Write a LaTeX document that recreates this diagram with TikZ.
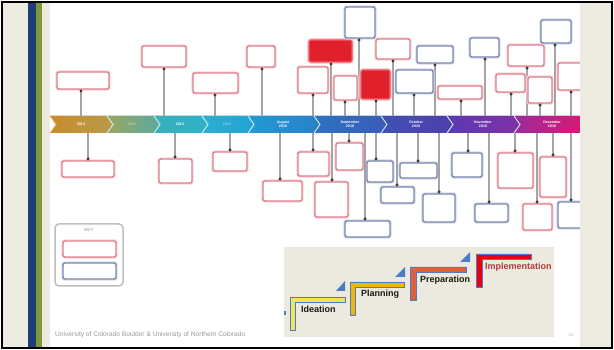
\documentclass[tikz,border=0pt]{standalone}
\usepackage{fontspec}
\setmainfont{Liberation Sans}
\usetikzlibrary{arrows.meta}
\definecolor{beige}{HTML}{EDEBE0}
\definecolor{barblue}{HTML}{1F3E78}
\definecolor{bargreen}{HTML}{7C9A3C}
\definecolor{boxpink}{HTML}{E07E8A}
\definecolor{boxblue}{HTML}{7A88B0}
\definecolor{boxred}{HTML}{E0202A}
\definecolor{boxredline}{HTML}{F06070}
\definecolor{conngray}{HTML}{A4A4A8}
\definecolor{dotgray}{HTML}{3A3A3A}
\definecolor{insetbg}{HTML}{ECE9DE}
\definecolor{stepblue}{HTML}{4A7CC8}
\definecolor{implred}{HTML}{B03A3A}
\definecolor{cA}{HTML}{C88C2C}\definecolor{cB}{HTML}{B89A4C}
\definecolor{cC}{HTML}{98A860}\definecolor{cD}{HTML}{5CA8A0}
\definecolor{cE}{HTML}{38B0BC}\definecolor{cF}{HTML}{30B0C8}
\definecolor{cG}{HTML}{2CB0D0}\definecolor{cH}{HTML}{22A2D4}
\definecolor{cI}{HTML}{229AD2}\definecolor{cJ}{HTML}{2A80C8}
\definecolor{cK}{HTML}{2E72C2}\definecolor{cL}{HTML}{3A5CB6}
\definecolor{cM}{HTML}{3E52B2}\definecolor{cN}{HTML}{503EAE}
\definecolor{cO}{HTML}{5A3AB0}\definecolor{cP}{HTML}{8030A6}
\definecolor{cQ}{HTML}{9C2A9A}\definecolor{cR}{HTML}{E0186E}
\definecolor{chevorange}{HTML}{F0C070}
\definecolor{chevwhite}{HTML}{D8F0F8}
\definecolor{stepyellow}{HTML}{F7E454}
\definecolor{steporange}{HTML}{F5B400}
\definecolor{stepcoral}{HTML}{E0603C}
\definecolor{stepred}{HTML}{E8000C}
\newcommand\tbx[7]{%
  \node[#6, minimum width={(#4-#2)*1pt}, minimum height={(#5-#3)*1pt}] (#1) at ({(#2+#4)/2},{(#3+#5)/2}) {};
  \coordinate (#1a) at (#7,116);
  \draw[conn] (#1a) -- (#1a |- #1.south);}
\newcommand\bbx[7]{%
  \node[#6, minimum width={(#4-#2)*1pt}, minimum height={(#5-#3)*1pt}] (#1) at ({(#2+#4)/2},{(#3+#5)/2}) {};
  \coordinate (#1a) at (#7,133);
  \draw[conn] (#1a) -- (#1a |- #1.north);}
\newcommand\seg[4]{%
  \fill[left color=#3,right color=#4] (#1,116) -- (#2,116) -- (#2+6,124.5) -- (#2,133) -- (#1,133) -- (#1+6,124.5) -- cycle;}
\newcommand\chev[2]{\draw[#2, line width=0.9pt] (#1,116) -- (#1+6,124.5) -- (#1,133);}
\begin{document}
\begin{tikzpicture}[x=1pt,y=-1pt,
  pinkbox/.style={draw=boxpink, line width=1.4pt, rounded corners=2pt, fill=white, inner sep=0pt,
    preaction={draw=boxpink!30, line width=3.4pt}},
  bluebox/.style={draw=boxblue, line width=1.4pt, rounded corners=2pt, fill=white, inner sep=0pt,
    preaction={draw=boxblue!30, line width=3.4pt}},
  redbox/.style={draw=boxredline, line width=1.2pt, rounded corners=2pt, fill=boxred, inner sep=0pt,
    preaction={draw=boxred!30, line width=3.2pt}},
  conn/.style={draw=conngray, line width=1.2pt, -{Circle[length=2.8pt,color=dotgray]}},
  seglabel/.style={text=white, font=\bfseries\fontsize{3.6}{4}\selectfont, align=center, inner sep=0pt},
  stepword/.style={anchor=west, font=\bfseries\fontsize{9}{10}\selectfont, inner sep=0pt, text=black!90},
  stepedge/.style={draw=stepblue, line width=0.5pt}]
\useasboundingbox (0,0) rectangle (614,350);
% background
\fill[white] (0,0) rectangle (614,350);
\fill[beige] (2,2.5) rectangle (612,347.5);
\fill[barblue] (28,2.5) rectangle (36,347.5);
\fill[bargreen] (36,2.5) rectangle (41.5,347.5);
\fill[white] (50,2.5) rectangle (580,347.5);
% timeline
\seg{50}{107}{cA}{cB}
\seg{107}{154}{cC}{cD}
\seg{154}{202}{cE}{cF}
\seg{202}{248}{cG}{cH}
\seg{248}{314}{cI}{cJ}
\seg{314}{381}{cK}{cL}
\seg{381}{447}{cM}{cN}
\seg{447}{514}{cO}{cP}
\seg{514}{586}{cQ}{cR}
\chev{50}{chevorange}
\foreach \xx in {107,154,202,248,314,381,447,514}{\chev{\xx}{chevwhite}}
\node[seglabel] (l1) at (81,124.5) {2013};
\node[seglabel, opacity=0.45] (l2) at (132,124.5) {2014};
\node[seglabel] (l3) at (180,124.5) {2015};
\node[seglabel, opacity=0.45] (l4) at (227,124.5) {2016};
\node[seglabel] (l5) at (283,124.5) {August\\2016};
\node[seglabel] (l6) at (350,124.5) {September\\2016};
\node[seglabel] (l7) at (416,124.5) {October\\2016};
\node[seglabel] (l8) at (483,124.5) {November\\2016};
\node[seglabel] (l9) at (552,124.5) {December\\2016};
% top boxes
\tbx{t1}{57}{72}{109}{89}{pinkbox}{81}
\tbx{t2}{142}{46}{186}{67}{pinkbox}{164}
\tbx{t3}{193}{73}{238}{93}{pinkbox}{215}
\tbx{t4}{247}{46}{275}{67}{pinkbox}{262}
\tbx{t5}{309}{40}{352}{62}{redbox}{331}
\tbx{t6}{345}{7}{375}{38}{bluebox}{359}
\tbx{t7}{298}{67}{328}{93}{pinkbox}{313}
\tbx{t8}{334}{76}{357}{100}{pinkbox}{345}
\tbx{t9}{361}{70}{390}{99}{redbox}{376}
\tbx{t10}{376}{39}{410}{59}{pinkbox}{393}
\tbx{t11}{417}{46}{453}{63}{bluebox}{435}
\tbx{t12}{396}{70}{433}{93}{bluebox}{414}
\tbx{t13}{438}{86}{482}{99}{pinkbox}{461}
\tbx{t14}{470}{38}{499}{57}{bluebox}{485}
\tbx{t15}{508}{45}{544}{66}{pinkbox}{527}
\tbx{t16}{541}{20}{571}{43}{bluebox}{555}
\tbx{t17}{496}{74}{525}{92}{pinkbox}{511}
\tbx{t18}{528}{77}{552}{103}{pinkbox}{540}
\tbx{t19}{558}{63}{588}{90}{pinkbox}{571}
% bottom boxes
\bbx{b1}{62}{161}{114}{177}{pinkbox}{88}
\bbx{b2}{159}{159}{192}{183}{pinkbox}{175}
\bbx{b3}{213}{152}{247}{171}{pinkbox}{230}
\bbx{b4}{263}{181}{302}{201}{pinkbox}{280}
\bbx{b5}{298}{152}{329}{176}{pinkbox}{313}
\bbx{b6}{315}{182}{348}{217}{pinkbox}{332}
\bbx{b7}{336}{143}{363}{170}{pinkbox}{349}
\bbx{b8}{367}{161}{393}{182}{bluebox}{376}
\bbx{b9}{345}{221}{390}{237}{bluebox}{365}
\bbx{b10}{381}{187}{414}{203}{bluebox}{397}
\bbx{b11}{400}{163}{437}{178}{bluebox}{418}
\bbx{b12}{423}{194}{455}{222}{bluebox}{439}
\bbx{b13}{452}{153}{482}{177}{bluebox}{468}
\bbx{b14}{475}{204}{508}{222}{bluebox}{489}
\bbx{b15}{498}{153}{533}{188}{pinkbox}{515}
\bbx{b16}{540}{157}{566}{197}{pinkbox}{553}
\bbx{b17}{523}{204}{552}{230}{pinkbox}{537}
\bbx{b18}{558}{202}{588}{228}{bluebox}{571}
% key
\node[draw=black!25, line width=1.5pt, rounded corners=4pt, minimum width=68pt, minimum height=62pt, inner sep=0pt] (key) at (89,255) {};
\node[text=black!45, font=\fontsize{4.5}{5}\selectfont, inner sep=0pt] (keyt) at (89,230) {KEY};
\node[pinkbox, minimum width=53pt, minimum height=16pt] (k1) at (89.5,249) {};
\node[bluebox, minimum width=53pt, minimum height=16pt] (k2) at (89.5,271) {};
% footer
\node[anchor=west, text=black!40, font=\fontsize{6.6}{7}\selectfont, inner sep=0pt] (foot) at (55,335) {University of Colorado Boulder \& University of Northern Colorado};
\node[text=black!30, font=\fontsize{4.5}{5}\selectfont, inner sep=0pt] (pg) at (571,335) {22};
% right margin
\fill[beige] (580,2.5) rectangle (612,347.5);
% inset
\fill[insetbg] (284,247) rectangle (554,337);
\fill[stepblue] (284,311) rectangle (285.5,315);
\filldraw[stepedge, fill=stepyellow] (290,297) -- (345,297) -- (345,302) -- (295,302) -- (295,330) -- (290,330) -- cycle;
\fill[stepblue] (336,291) -- (345,291) -- (345,281) -- cycle;
\filldraw[stepedge, fill=steporange] (350,282) -- (404,282) -- (404,287) -- (355,287) -- (355,315) -- (350,315) -- cycle;
\fill[stepblue] (395,277) -- (405,277) -- (405,267) -- cycle;
\filldraw[stepedge, fill=stepcoral] (410,267) -- (466,267) -- (466,272) -- (416,272) -- (416,300) -- (410,300) -- cycle;
\fill[stepblue] (460,262) -- (470,262) -- (470,252) -- cycle;
\filldraw[stepedge, fill=stepred] (476,254) -- (531,254) -- (531,259) -- (482,259) -- (482,287) -- (476,287) -- cycle;
\node[stepword] (s1) at (301,309) {Ideation};
\node[stepword] (s2) at (361,294) {Planning};
\node[stepword] (s3) at (420,280) {Preparation};
\node[stepword, text=implred] (s4) at (485,267) {Implementation};
% frame
\draw[black, line width=2pt] (2,2.5) rectangle (612,347.5);
\end{tikzpicture}
\end{document}
